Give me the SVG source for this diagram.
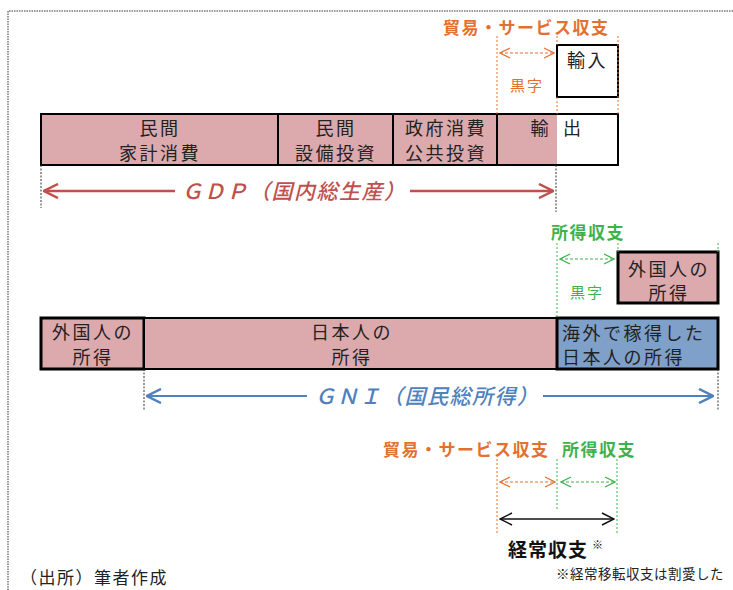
<svg xmlns="http://www.w3.org/2000/svg" width="733" height="590" viewBox="0 0 733 590">
<defs>
<style>
text{font-family:"Noto Sans CJK JP","Noto Sans",sans-serif;fill:#222}
.t{font-size:18px;letter-spacing:2.5px}
.pk{fill:#dcaaad;stroke:#000;stroke-width:2}
.bl{fill:#7fa1c9;stroke:#000;stroke-width:3}
.thick{stroke-width:3}
.wh{fill:#fff;stroke:#000;stroke-width:2}
.org{fill:#e4702e}
.grn{fill:#3db24c}
.ttl{font-size:17px;font-weight:bold;letter-spacing:1.5px}
.ko{font-size:15px;letter-spacing:2px}
.vo{stroke:#e4702e;stroke-width:1;stroke-dasharray:2,2;fill:none}
.vg{stroke:#3db24c;stroke-width:1;stroke-dasharray:2,2;fill:none}
.vk{stroke:#333;stroke-width:1;stroke-dasharray:2,1.5;fill:none}
.ao{stroke:#e4702e;stroke-width:1.2;stroke-dasharray:3,2;fill:none}
.ag{stroke:#3db24c;stroke-width:1.2;stroke-dasharray:3,2;fill:none}
.big{font-size:21px;font-weight:500;letter-spacing:1.5px}
</style>
<marker id="mo" viewBox="0 0 12 12" refX="11" refY="6" markerWidth="12" markerHeight="12" markerUnits="userSpaceOnUse" orient="auto-start-reverse"><path d="M1,1 L11,6 L1,11" fill="none" stroke="#e4702e" stroke-width="1.2"/></marker>
<marker id="mg" viewBox="0 0 12 12" refX="11" refY="6" markerWidth="12" markerHeight="12" markerUnits="userSpaceOnUse" orient="auto-start-reverse"><path d="M1,1 L11,6 L1,11" fill="none" stroke="#3db24c" stroke-width="1.2"/></marker>
<marker id="mk" viewBox="0 0 14 14" refX="13" refY="7" markerWidth="14" markerHeight="14" markerUnits="userSpaceOnUse" orient="auto-start-reverse"><path d="M1,1 L13,7 L1,13" fill="none" stroke="#111" stroke-width="1.5"/></marker>
<marker id="mr" viewBox="0 0 16 16" refX="15" refY="8" markerWidth="16" markerHeight="16" markerUnits="userSpaceOnUse" orient="auto-start-reverse"><path d="M1,1 L15,8 L1,15" fill="none" stroke="#c0504d" stroke-width="2.5"/></marker>
<marker id="mb" viewBox="0 0 16 16" refX="15" refY="8" markerWidth="16" markerHeight="16" markerUnits="userSpaceOnUse" orient="auto-start-reverse"><path d="M1,1 L15,8 L1,15" fill="none" stroke="#4f81bd" stroke-width="2.5"/></marker>
</defs>
<rect width="733" height="590" fill="#fff"/>
<path d="M8,590 V11 H733" fill="none" stroke="#777" stroke-width="1.5" stroke-dasharray="1.5,1"/>

<!-- GDP row -->
<g id="gdp-household"><rect x="41" y="114" width="237" height="51" class="pk"/><text class="t" x="160" y="135" text-anchor="middle">民間</text><text class="t" x="160" y="160" text-anchor="middle">家計消費</text></g>
<g id="gdp-investment"><rect x="278" y="114" width="115" height="51" class="pk"/><text class="t" x="336" y="135" text-anchor="middle">民間</text><text class="t" x="336" y="160" text-anchor="middle">設備投資</text></g>
<g id="gdp-government"><rect x="393" y="114" width="104" height="51" class="pk"/><text class="t" x="446" y="135" text-anchor="middle">政府消費</text><text class="t" x="446" y="160" text-anchor="middle">公共投資</text></g>
<g id="gdp-export"><rect x="497" y="114" width="121" height="51" fill="#fff" stroke="none"/><rect x="497" y="114" width="60" height="51" fill="#dcaaad"/><rect x="497" y="114" width="121" height="51" fill="none" stroke="#000" stroke-width="2"/><text class="t" x="551" y="135" text-anchor="end" letter-spacing="0">輸</text><text class="t" x="563" y="135">出</text></g>
<g id="import"><rect x="557" y="45" width="61" height="52" class="wh"/><text class="t" x="567" y="67" letter-spacing="0.5">輸入</text></g>

<g id="trade-label"><text class="ttl org" x="443" y="34">貿易・サービス収支</text><text class="ko org" x="510" y="91">黒字</text></g>

<!-- GNI row -->
<g id="gni-foreign-left"><rect x="41" y="318" width="103" height="51" class="pk thick"/><text class="t" x="93" y="339" text-anchor="middle" letter-spacing="1">外国人の</text><text class="t" x="93" y="364" text-anchor="middle" letter-spacing="1">所得</text></g>
<g id="gni-japanese"><rect x="144" y="318" width="413" height="51" class="pk"/><text class="t" x="352" y="339" text-anchor="middle" letter-spacing="1">日本人の</text><text class="t" x="352" y="364" text-anchor="middle" letter-spacing="1">所得</text></g>
<g id="gni-abroad"><rect x="557" y="318" width="161" height="51" class="bl"/><text class="t" x="562" y="340" letter-spacing="2">海外で稼得した</text><text class="t" x="562" y="364" letter-spacing="2">日本人の所得</text></g>
<g id="foreign-income"><rect x="618" y="252" width="100" height="51" class="pk thick"/><text class="t" x="669" y="276" text-anchor="middle" letter-spacing="1">外国人の</text><text class="t" x="669" y="300" text-anchor="middle" letter-spacing="1">所得</text></g>
<g id="income-label"><text class="ttl grn" x="551" y="239">所得収支</text><text class="ko grn" x="570" y="298">黒字</text></g>

<g id="gdp-label" transform="translate(294,199) skewX(-14)"><text class="big" x="0" y="0" text-anchor="middle" style="fill:#c0504d">ＧＤＰ（国内総生産）</text></g>
<g id="gni-label" transform="translate(427,404) skewX(-14)"><text class="big" x="0" y="0" text-anchor="middle" style="fill:#4f81bd">ＧＮＩ（国民総所得）</text></g>

<!-- bottom -->
<g id="current-account"><text class="ttl org" x="383" y="456">貿易・サービス収支</text><text class="ttl grn" x="562" y="456">所得収支</text><text x="508" y="557" font-size="19" font-weight="bold" style="fill:#111;letter-spacing:1px">経常収支</text><text x="592" y="549" font-size="11" style="fill:#111">※</text></g>
<g id="notes"><text x="556" y="579" font-size="13.5" style="fill:#222;letter-spacing:0.5px">※経常移転収支は割愛した</text><text x="20" y="584" font-size="17" style="fill:#222;letter-spacing:1.5px">（出所）筆者作成</text></g>

<g id="connectors">
<path class="vo" d="M497,36 V114 M557,36 V45 M557,97 V114 M618,36 V114"/>
<line class="ao" x1="500" y1="53" x2="554" y2="53" marker-start="url(#mo)" marker-end="url(#mo)"/>
<path class="vk" d="M41,165 V208 M556,165 V212 M144,369 V410 M718,369 V410"/>
<line x1="44" y1="191" x2="175" y2="191" stroke="#c0504d" stroke-width="2.5" marker-start="url(#mr)"/>
<line x1="410" y1="191" x2="553" y2="191" stroke="#c0504d" stroke-width="2.5" marker-end="url(#mr)"/>
<path class="vg" d="M557,243 V318 M618,243 V252 M718,243 V252"/>
<line class="ag" x1="560" y1="259" x2="614" y2="259" marker-start="url(#mg)" marker-end="url(#mg)"/>
<line x1="147" y1="396" x2="307" y2="396" stroke="#4f81bd" stroke-width="2" marker-start="url(#mb)"/>
<line x1="543" y1="396" x2="713" y2="396" stroke="#4f81bd" stroke-width="2" marker-end="url(#mb)"/>
<path class="vo" d="M497,459 V535"/>
<path class="vg" d="M557,459 V510 M617,459 V535"/>
<line class="ao" x1="500" y1="482" x2="555" y2="482" marker-start="url(#mo)" marker-end="url(#mo)"/>
<line class="ag" x1="561" y1="482" x2="615" y2="482" marker-start="url(#mg)" marker-end="url(#mg)"/>
<line x1="500" y1="519" x2="614" y2="519" stroke="#111" stroke-width="1.5" marker-start="url(#mk)" marker-end="url(#mk)"/>
</g>
</svg>
